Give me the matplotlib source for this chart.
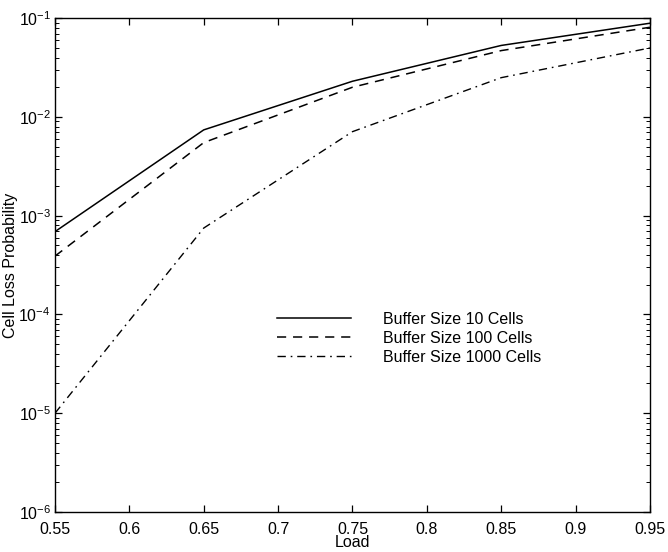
import numpy as np
import matplotlib
matplotlib.use("Agg")
import matplotlib.pyplot as plt
from matplotlib.ticker import LogLocator, NullFormatter, FixedLocator

plt.rcParams['font.family'] = ['Liberation Sans', 'DejaVu Sans']

# --- dados ---
carga = [0.55, 0.65, 0.75, 0.85, 0.95]
buffer_10 = [6.9e-4, 7.4e-3, 2.3e-2, 5.3e-2, 8.9e-2]
buffer_100 = [3.9e-4, 5.5e-3, 2.0e-2, 4.7e-2, 8.1e-2]
buffer_1000 = [1.0e-5, 7.5e-4, 7.1e-3, 2.5e-2, 5.0e-2]
rotulos = ['Buffer Size 10 Cells', 'Buffer Size 100 Cells', 'Buffer Size 1000 Cells']
ticks_x = [0.55, 0.6, 0.65, 0.7, 0.75, 0.8, 0.85, 0.9, 0.95]

fig = plt.figure(figsize=(6.68, 5.52), dpi=100)
ax = fig.add_axes([0.0823, 0.0725, 0.8907, 0.8945])

ax.plot(carga, buffer_10, color='black', linestyle='-', linewidth=1.1, label=rotulos[0])
ax.plot(carga, buffer_100, color='black', linestyle=(0, (6, 4.5)), linewidth=1.1, label=rotulos[1])
ax.plot(carga, buffer_1000, color='black', linestyle=(0, (6, 3.5, 1.2, 3.5)), linewidth=1.0, label=rotulos[2])

ax.set_yscale('log')
ax.set_xlim(0.55, 0.95)
ax.set_ylim(1e-6, 1e-1)
ax.xaxis.set_major_locator(FixedLocator(ticks_x))
ax.set_xticklabels([f'{t:g}' for t in ticks_x])
ax.yaxis.set_major_locator(LogLocator(base=10, numticks=10))
ax.yaxis.set_minor_locator(LogLocator(base=10, subs=np.arange(2, 10), numticks=10))
ax.yaxis.set_minor_formatter(NullFormatter())

ax.tick_params(which='both', direction='in', top=True, right=True, labelsize=11.5)
ax.tick_params(which='major', length=5, width=0.9)
ax.tick_params(which='minor', length=3, width=0.7)
ax.tick_params(axis='x', which='major', pad=7)
ax.tick_params(axis='y', which='major', pad=3)
for s in ax.spines.values():
    s.set_linewidth(1.0)

ax.set_xlabel('Load', fontsize=11.5, labelpad=-1)
ax.set_ylabel('Cell Loss Probability', fontsize=11.5, labelpad=0)

ax.legend(loc='center', bbox_to_anchor=(0.595, 0.352), frameon=False, fontsize=11.5,
          handlelength=4.6, handletextpad=2.0, labelspacing=0.25)

fig.savefig('out.png', dpi=100)
